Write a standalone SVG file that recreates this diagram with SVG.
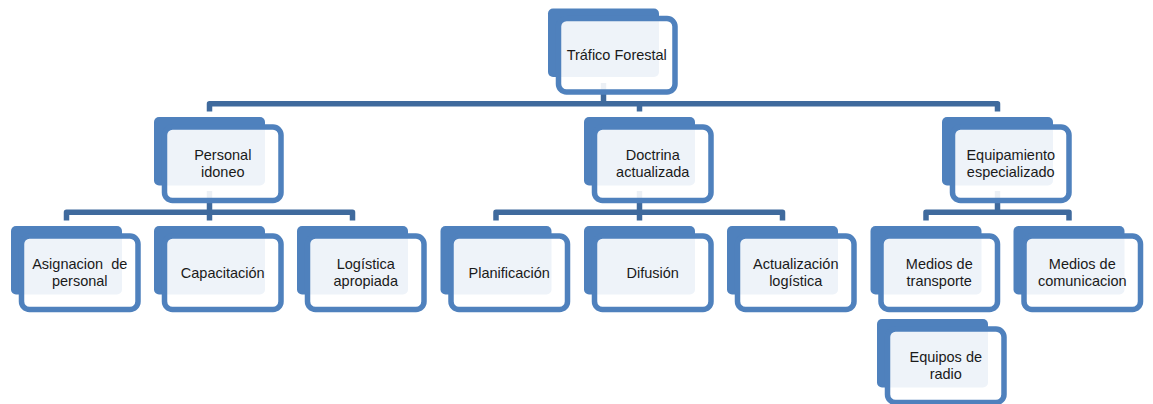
<svg xmlns="http://www.w3.org/2000/svg" width="1153" height="404" viewBox="0 0 1153 404">
<style>
.back{fill:#4F81BD}
.front{fill:#FFFFFF;fill-opacity:0.9;stroke:#4F81BD;stroke-width:5.5}
.lbl{font-family:"Liberation Sans",Arial,sans-serif;font-size:14.5px;fill:#1a1a1a;text-anchor:middle}
.conn{fill:none;stroke:#3F6A9D;stroke-width:5.5;stroke-linejoin:round}
</style>
<rect width="1153" height="404" fill="#FFFFFF"/>
<g id="connectors">
<path class="conn" d="M603.5,83 V103.7"/>
<path class="conn" d="M209.5,111.5 V103.7 H997.5 V111.5"/>
<path class="conn" d="M639.5,103.7 V111.5"/>
<path class="conn" d="M209.5,191 V220.5"/>
<path class="conn" d="M66.5,220.5 V212.2 H352.5 V220.5"/>
<path class="conn" d="M639.5,191 V220.5"/>
<path class="conn" d="M496,220.5 V212.2 H782.5 V220.5"/>
<path class="conn" d="M997.5,191 V212.2"/>
<path class="conn" d="M926,220.5 V212.2 H1069 V220.5"/>
</g>
<g id="n0" transform="translate(548,8.5)">
<rect class="back" x="0" y="0" width="111" height="68.5" rx="5"/>
<rect class="front" x="10.5" y="10" width="116.5" height="73.5" rx="8"/>
<text class="lbl" x="68.75" y="51.75">Tráfico Forestal</text>
</g>
<g id="n1" transform="translate(154,117)">
<rect class="back" x="0" y="0" width="111" height="68.5" rx="5"/>
<rect class="front" x="10.5" y="10" width="116.5" height="73.5" rx="8"/>
<text class="lbl" x="68.75" y="42.5">Personal</text>
<text class="lbl" x="68.75" y="60">idoneo</text>
</g>
<g id="n2" transform="translate(584,117)">
<rect class="back" x="0" y="0" width="111" height="68.5" rx="5"/>
<rect class="front" x="10.5" y="10" width="116.5" height="73.5" rx="8"/>
<text class="lbl" x="68.75" y="42.5">Doctrina</text>
<text class="lbl" x="68.75" y="60">actualizada</text>
</g>
<g id="n3" transform="translate(942,117)">
<rect class="back" x="0" y="0" width="111" height="68.5" rx="5"/>
<rect class="front" x="10.5" y="10" width="116.5" height="73.5" rx="8"/>
<text class="lbl" x="68.75" y="42.5">Equipamiento</text>
<text class="lbl" x="68.75" y="60">especializado</text>
</g>
<g id="n4" transform="translate(11,226)">
<rect class="back" x="0" y="0" width="111" height="68.5" rx="5"/>
<rect class="front" x="10.5" y="10" width="116.5" height="73.5" rx="8"/>
<text class="lbl" x="68.75" y="42.5" word-spacing="4">Asignacion de</text>
<text class="lbl" x="68.75" y="60">personal</text>
</g>
<g id="n5" transform="translate(154,226)">
<rect class="back" x="0" y="0" width="111" height="68.5" rx="5"/>
<rect class="front" x="10.5" y="10" width="116.5" height="73.5" rx="8"/>
<text class="lbl" x="68.75" y="51.5">Capacitación</text>
</g>
<g id="n6" transform="translate(297,226)">
<rect class="back" x="0" y="0" width="111" height="68.5" rx="5"/>
<rect class="front" x="10.5" y="10" width="116.5" height="73.5" rx="8"/>
<text class="lbl" x="68.75" y="42.5">Logística</text>
<text class="lbl" x="68.75" y="60">apropiada</text>
</g>
<g id="n7" transform="translate(440.5,226)">
<rect class="back" x="0" y="0" width="111" height="68.5" rx="5"/>
<rect class="front" x="10.5" y="10" width="116.5" height="73.5" rx="8"/>
<text class="lbl" x="68.75" y="51.5">Planificación</text>
</g>
<g id="n8" transform="translate(584,226)">
<rect class="back" x="0" y="0" width="111" height="68.5" rx="5"/>
<rect class="front" x="10.5" y="10" width="116.5" height="73.5" rx="8"/>
<text class="lbl" x="68.75" y="51.5">Difusión</text>
</g>
<g id="n9" transform="translate(727,226)">
<rect class="back" x="0" y="0" width="111" height="68.5" rx="5"/>
<rect class="front" x="10.5" y="10" width="116.5" height="73.5" rx="8"/>
<text class="lbl" x="68.75" y="42.5">Actualización</text>
<text class="lbl" x="68.75" y="60">logística</text>
</g>
<g id="n10" transform="translate(870.5,226)">
<rect class="back" x="0" y="0" width="111" height="68.5" rx="5"/>
<rect class="front" x="10.5" y="10" width="116.5" height="73.5" rx="8"/>
<text class="lbl" x="68.75" y="42.5">Medios de</text>
<text class="lbl" x="68.75" y="60">transporte</text>
</g>
<g id="n11" transform="translate(1013.5,226)">
<rect class="back" x="0" y="0" width="111" height="68.5" rx="5"/>
<rect class="front" x="10.5" y="10" width="116.5" height="73.5" rx="8"/>
<text class="lbl" x="68.75" y="42.5">Medios de</text>
<text class="lbl" x="68.75" y="60">comunicacion</text>
</g>
<g id="n12" transform="translate(877,319)">
<rect class="back" x="0" y="0" width="111" height="68.5" rx="5"/>
<rect class="front" x="10.5" y="10" width="116.5" height="73.5" rx="8"/>
<text class="lbl" x="68.75" y="42.5">Equipos de</text>
<text class="lbl" x="68.75" y="60">radio</text>
</g>
</svg>
